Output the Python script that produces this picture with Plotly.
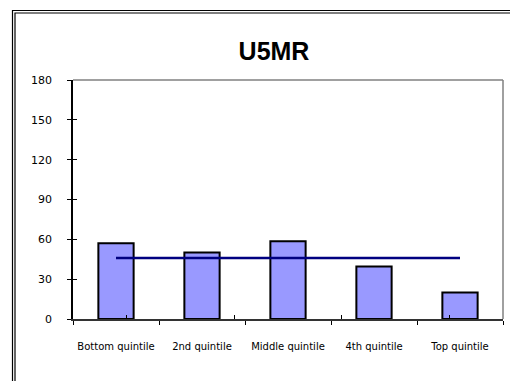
import plotly.graph_objects as go

categories = ["Bottom quintile", "2nd quintile", "Middle quintile", "4th quintile", "Top quintile"]
u5mr = [57, 50, 58.5, 39.5, 20]
average = [46, 46, 46, 46, 46]
y_ticks = [0, 30, 60, 90, 120, 150, 180]

W, H = 510, 381
L, R, T, B = 73, 7, 80, 62
pw, ph = W - L - R, H - T - B

def px_x(x):
    return (x - L) / pw

def px_y(y):
    return (H - B - y) / ph

title_font = "Liberation Sans, Arial, sans-serif"
tick_font = "DejaVu Sans, Verdana, sans-serif"

fig = go.Figure()
fig.add_trace(go.Bar(
    x=categories, y=u5mr, width=0.41,
    marker=dict(color="#9999FF", line=dict(color="black", width=2)),
    showlegend=False, hoverinfo="x+y",
))
fig.add_trace(go.Scatter(
    x=categories, y=average, mode="lines",
    line=dict(color="#000080", width=2.5),
    showlegend=False,
))
# invisible trace to activate the overlay axes carrying the inner tick halves
fig.add_trace(go.Scatter(x=categories, y=average, xaxis="x2", yaxis="y2",
                         mode="lines", line=dict(width=0), opacity=0,
                         showlegend=False, hoverinfo="skip"))

axis_common = dict(showgrid=False, zeroline=False, automargin=False)
fig.update_layout(
    width=W, height=H,
    margin=dict(l=L, r=R, t=T, b=B),
    paper_bgcolor="white", plot_bgcolor="white",
    title=dict(text="<b>U5MR</b>", x=274 / W, xanchor="center",
               y=1 - 51 / H, yanchor="middle",
               font=dict(family=title_font, size=25, color="black")),
    xaxis=dict(**axis_common, type="category", categoryorder="array",
               categoryarray=categories, tickson="boundaries",
               ticks="outside", ticklen=4, tickwidth=1, tickcolor="black",
               showline=True, linecolor="#333333", linewidth=1.5,
               tickangle=0,
               tickfont=dict(family=tick_font, size=10, color="black"),
               ticklabelstandoff=17),
    yaxis=dict(**axis_common, range=[0, 180], tickvals=y_ticks,
               ticks="outside", ticklen=4, tickwidth=1, tickcolor="black",
               showline=True, linecolor="black", linewidth=1.5,
               tickfont=dict(family=tick_font, size=11, color="black"),
               ticklabelstandoff=13),
    xaxis2=dict(**axis_common, type="category", categoryorder="array",
                categoryarray=categories, tickson="boundaries",
                overlaying="x", side="bottom", ticks="inside", ticklen=4,
                tickwidth=1, tickcolor="black", showticklabels=False,
                showline=False),
    yaxis2=dict(**axis_common, range=[0, 180], tickvals=y_ticks,
                overlaying="y", side="left", ticks="inside", ticklen=4,
                tickwidth=1, tickcolor="black", showticklabels=False,
                showline=False),
    bargap=0.59,
)

shapes = [
    # gray top and right edges of the plot area
    dict(type="line", xref="paper", yref="paper", x0=0, x1=1, y0=1, y1=1,
         line=dict(color="#808080", width=1.5)),
    dict(type="line", xref="paper", yref="paper", x0=1, x1=1, y0=0, y1=1,
         line=dict(color="#808080", width=1.5)),
]
# double frame around the chart, open at right and bottom
for off in (12.5, 15):
    shapes.append(dict(type="path", xref="paper", yref="paper",
                       path=f"M {px_x(off)},{px_y(H + 5)} L {px_x(off)},{px_y(off - 2)} L {px_x(W + 5)},{px_y(off - 2)}",
                       line=dict(color="black", width=1.2)))
fig.update_layout(shapes=shapes)

fig.write_html("out.html")
